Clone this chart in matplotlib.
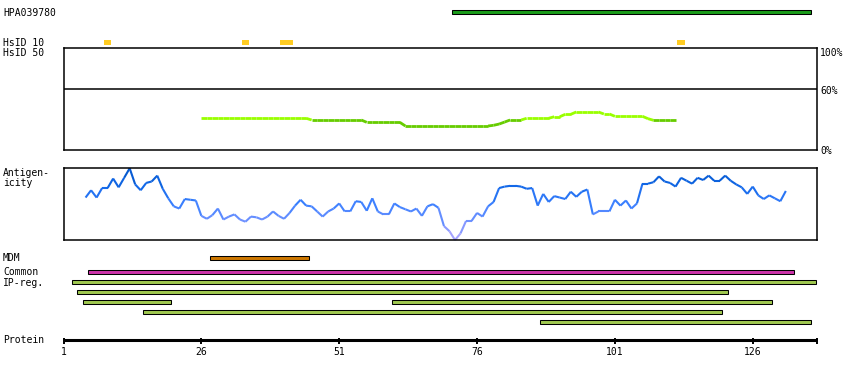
import matplotlib
matplotlib.use("Agg")
import matplotlib.pyplot as plt
from matplotlib.collections import LineCollection
from matplotlib.colors import LinearSegmentedColormap
import numpy as np

# ---- data ----
protein_len = 137.6
tick_res = [1, 26, 51, 76, 101, 126]

hpa_start, hpa_end = 72, 136
hsid10_res = [9, 34, 41, 42, 113]

hsid50_start = 26
hsid50_vals = [31.2, 31.2, 31.2, 31.2, 31.2, 31.2, 31.2, 31.2, 31.2, 31.2,
               31.2, 31.2, 31.2, 31.2, 31.2, 31.2, 31.2, 31.2, 31.2, 31.2,
               29.5, 29.5, 29.5, 29.5, 29.5, 29.5, 29.5, 29.5, 29.5, 29.5,
               27.2, 27.2, 27.2, 27.2, 27.2, 27.2, 27.2,
               23.6, 23.6, 23.6, 23.6, 23.6, 23.6, 23.6, 23.6, 23.6, 23.6,
               23.6, 23.6, 23.6, 23.6, 23.6, 23.6,
               24.3, 25.5, 27.5, 29.5, 29.5, 29.5,
               31.2, 31.2, 31.2, 31.2, 31.2, 32.7, 32.7, 35.1, 35.1,
               37.4, 37.4, 37.4, 37.4, 37.4, 35.4, 35.4,
               33.1, 33.1, 33.1, 33.1, 33.1, 33.1, 30.8,
               29.2, 29.2, 29.2, 29.2, 29.2]

antig_start = 5
antig_vals = [0.59, 0.69, 0.59, 0.72, 0.72, 0.85, 0.73, 0.86, 0.99, 0.77,
              0.69, 0.79, 0.81, 0.89, 0.71, 0.58, 0.47, 0.44, 0.57, 0.56,
              0.55, 0.34, 0.30, 0.35, 0.44, 0.29, 0.33, 0.36, 0.29, 0.26,
              0.33, 0.32,
              0.29, 0.33, 0.40, 0.34, 0.30, 0.38, 0.48, 0.56, 0.48, 0.47,
              0.40, 0.33, 0.40, 0.44, 0.51, 0.40, 0.40, 0.54, 0.53, 0.41,
              0.58, 0.40, 0.36, 0.36, 0.51, 0.46, 0.43, 0.40, 0.44, 0.34,
              0.47, 0.50,
              0.45, 0.20, 0.13, 0.01, 0.10, 0.27, 0.27, 0.38, 0.33, 0.47,
              0.53, 0.72, 0.74, 0.75, 0.75, 0.74, 0.71, 0.72, 0.48, 0.64,
              0.53, 0.61, 0.59, 0.57, 0.67, 0.60, 0.67, 0.70, 0.36, 0.40,
              0.40, 0.40,
              0.56, 0.48, 0.55, 0.44, 0.51, 0.78, 0.78, 0.80, 0.88, 0.81,
              0.79, 0.74, 0.86, 0.82, 0.78, 0.86, 0.83, 0.89, 0.82, 0.82,
              0.89, 0.82, 0.77, 0.73, 0.64, 0.74, 0.62, 0.57, 0.62, 0.58,
              0.54, 0.68]

mdm_start, mdm_end = 28, 45
common_start, common_end = 6, 133
ip_rows = [0, 1, 2, 2, 3, 4]
ip_starts = [3, 4, 5, 61, 16, 88]
ip_ends = [137, 121, 20, 129, 120, 136]

# ---- layout (pixels) ----
W, H = 850, 380
X0 = 63.5          # pixel of residue 1
PPR = 5.514        # pixels per residue
FONT = "DejaVu Sans Mono"
FS = 7

fig = plt.figure(figsize=(W / 100, H / 100), dpi=100)
fig.patch.set_facecolor("white")

ax = fig.add_axes([0, 0, 1, 1])
ax.set_xlim(1 - X0 / PPR, 1 - X0 / PPR + W / PPR)
ax.set_ylim(H, 0)
ax.axis("off")

lab = fig.add_axes([0, 0, 1, 1], facecolor="none")
lab.set_xlim(0, W)
lab.set_ylim(H, 0)
lab.axis("off")


def sub_axes(top, bottom):
    right_px = X0 + (protein_len - 1) * PPR
    a = fig.add_axes([X0 / W, 1 - bottom / H, (right_px - X0) / W, (bottom - top) / H])
    a.set_xlim(1, protein_len)
    a.set_xticks([])
    a.set_yticks([])
    for s in a.spines.values():
        s.set_linewidth(1.1)
        s.set_color("black")
    return a


def bar(y, start, end, color, h=4.3, edge=True):
    ax.barh(y, end - start + 1, left=start - 0.5, height=h, color=color,
            edgecolor="black" if edge else "none", linewidth=0.75 if edge else 0)


# HPA bar
bar(12.2, hpa_start, hpa_end, "#1a9c1a")
lab.text(3, 16, "HPA039780", fontsize=FS, family=FONT, va="baseline")

# HsID 10 marks
for r in hsid10_res:
    ax.barh(42.3, 1.3, left=r - 0.65, height=4.6, color="#ffcc22", linewidth=0)
lab.text(3, 45.5, "HsID 10", fontsize=FS, family=FONT, va="baseline")
lab.text(3, 56, "HsID 50", fontsize=FS, family=FONT, va="baseline")

# HsID 50 panel
a50 = sub_axes(48.3, 150)
a50.set_ylim(0, 100)
a50.axhline(60, color="black", lw=1.1)
hx = np.arange(hsid50_start, hsid50_start + len(hsid50_vals))
hy = np.array(hsid50_vals)
segs = [[(hx[i], hy[i]), (hx[i + 1], hy[i + 1])] for i in range(len(hx) - 1)]
cols = ["#99ff00" if (hy[i] + hy[i + 1]) / 2 >= 30 else "#66cc00" for i in range(len(hx) - 1)]
a50.add_collection(LineCollection(segs, colors=cols, linewidths=2.0, capstyle="butt"))
lab.text(820, 48.5, "100%", fontsize=FS, family=FONT, va="top")
lab.text(820, 90.5, "60%", fontsize=FS, family=FONT, va="center")
lab.text(820, 150.5, "0%", fontsize=FS, family=FONT, va="center")

# Antigenicity panel
aag = sub_axes(168.3, 240)
av = np.array(antig_vals)
ax_ = np.arange(antig_start, antig_start + len(av))
aag.set_ylim(av.min(), av.max())
cmap = LinearSegmentedColormap.from_list(
    "ag", [(0.0, "#b4a8ff"), (0.3, "#6a90ff"), (0.5, "#3b80ff"), (0.75, "#1268e8"), (1.0, "#0052c4")])
segs = [[(ax_[i], av[i]), (ax_[i + 1], av[i + 1])] for i in range(len(av) - 1)]
mids = [(av[i] + av[i + 1]) / 2 for i in range(len(av) - 1)]
lc = LineCollection(segs, colors=[cmap(m) for m in mids], linewidths=1.5, clip_on=False)
aag.add_collection(lc)
lab.text(3, 175.5, "Antigen-", fontsize=FS, family=FONT, va="baseline")
lab.text(3, 185.5, "icity", fontsize=FS, family=FONT, va="baseline")

# feature rows
bar(257.7, mdm_start, mdm_end, "#cc7700")
lab.text(3, 261, "MDM", fontsize=FS, family=FONT, va="baseline")
bar(272.2, common_start, common_end, "#cc33aa")
lab.text(3, 275, "Common", fontsize=FS, family=FONT, va="baseline")
lab.text(3, 285.5, "IP-reg.", fontsize=FS, family=FONT, va="baseline")
for row, s, e in zip(ip_rows, ip_starts, ip_ends):
    bar(282.2 + row * 10, s, e, "#a0c850")

# protein axis
ax.hlines(339.5, 1, protein_len, color="black", lw=2.2)
ax.vlines(tick_res + [protein_len], 338, 344, color="black", lw=1.4)
for t in tick_res:
    ax.text(t, 355, str(t), fontsize=FS, family=FONT, ha="center", va="baseline")
lab.text(3, 343, "Protein", fontsize=FS, family=FONT, va="baseline")

fig.savefig("out.png", dpi=100, facecolor="white")
